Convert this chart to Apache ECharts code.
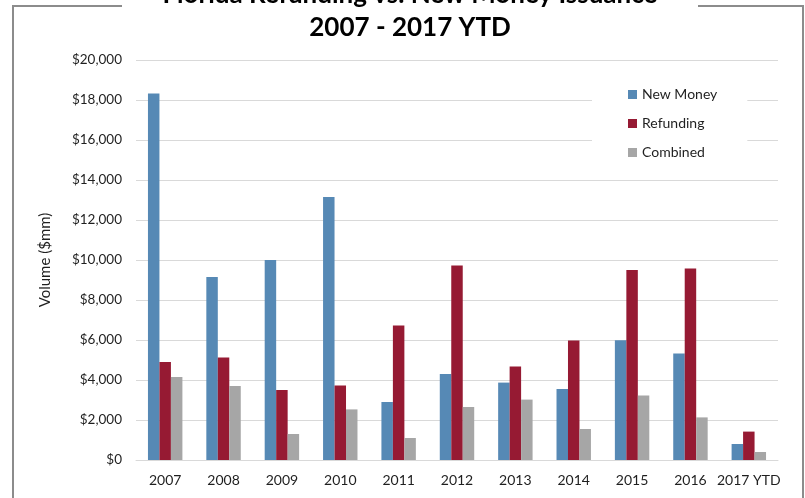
<!DOCTYPE html>
<html>
<head>
<meta charset="utf-8">
<script src="https://cdn.jsdelivr.net/npm/echarts@6/dist/echarts.min.js"></script>
<style>
  html, body { margin: 0; padding: 0; background: #fff; }
  #chart { width: 805px; height: 498px; }
</style>
</head>
<body>
<div id="chart"></div>
<script>
// Florida municipal issuance by year ($mm)
const categories = ['2007', '2008', '2009', '2010', '2011', '2012', '2013', '2014', '2015', '2016', '2017 YTD'];
const newMoney  = [18330, 9150, 10000, 13150, 2900, 4300, 3870, 3550, 5990, 5330, 800];
const refunding = [4900, 5130, 3500, 3730, 6730, 9730, 4680, 5980, 9500, 9580, 1420];
const combined  = [4150, 3700, 1300, 2530, 1100, 2650, 3020, 1550, 3230, 2130, 400];
const seriesNames = ['New Money', 'Refunding', 'Combined'];
const yMin = 0, yMax = 20000, yStep = 2000;

const FONT = 'Lato, "Noto Sans", sans-serif';
const TEXT = '#1f1f1f';
const GRID_LINE = '#D9D9D9';

const chart = echarts.init(document.getElementById('chart'), null, { renderer: 'canvas' });

const money = v => '$' + v.toLocaleString('en-US');

chart.setOption({
  animation: false,
  backgroundColor: '#fff',
  color: ['#5689B5', '#961A33', '#A6A6A6'],
  graphic: [
    { type: 'rect', z: 0, shape: { x: 13, y: 6, width: 790, height: 520 },
      style: { fill: 'none', stroke: '#8C8C8C', lineWidth: 2 } },
    { type: 'rect', z: 1, shape: { x: 122, y: 0, width: 576, height: 14 },
      style: { fill: '#fff' } }
  ],
  title: {
    text: 'Florida Refunding vs. New Money Issuance\n2007 - 2017 YTD',
    left: 410,
    textAlign: 'center',
    top: -22,
    padding: 0,
    z: 10,
    textStyle: { fontFamily: FONT, fontWeight: 'bold', fontSize: 26, lineHeight: 33, color: '#000' }
  },
  legend: {
    orient: 'vertical',
    left: 592,
    top: 78,
    padding: [8, 30, 8, 36],
    backgroundColor: '#fff',
    icon: 'rect',
    itemWidth: 9,
    itemHeight: 9,
    itemGap: 12,
    itemStyle: { borderWidth: 0 },
    data: seriesNames,
    textStyle: { fontFamily: FONT, fontSize: 14, lineHeight: 17, color: TEXT }
  },
  grid: { left: 136, right: 27, top: 60, bottom: 38, containLabel: false },
  xAxis: {
    type: 'category',
    data: categories,
    axisLine: { lineStyle: { color: GRID_LINE, width: 1 } },
    axisTick: { show: false },
    axisLabel: { interval: 0, fontFamily: FONT, fontSize: 14, color: TEXT, margin: 13 }
  },
  yAxis: {
    type: 'value',
    min: yMin, max: yMax, interval: yStep,
    name: 'Volume ($mm)',
    nameLocation: 'middle',
    nameRotate: 90,
    nameGap: 83,
    nameTextStyle: { fontFamily: FONT, fontSize: 15, color: TEXT },
    axisLine: { show: false },
    axisTick: { show: false },
    splitLine: { lineStyle: { color: GRID_LINE, width: 1 } },
    axisLabel: { fontFamily: FONT, fontSize: 13.5, color: TEXT, margin: 14, formatter: money }
  },
  series: [
    { name: seriesNames[0], type: 'bar', data: newMoney, barGap: '0%', barCategoryGap: '41%' },
    { name: seriesNames[1], type: 'bar', data: refunding, barGap: '0%', barCategoryGap: '41%' },
    { name: seriesNames[2], type: 'bar', data: combined, barGap: '0%', barCategoryGap: '41%' }
  ]
});
</script>
</body>
</html>
